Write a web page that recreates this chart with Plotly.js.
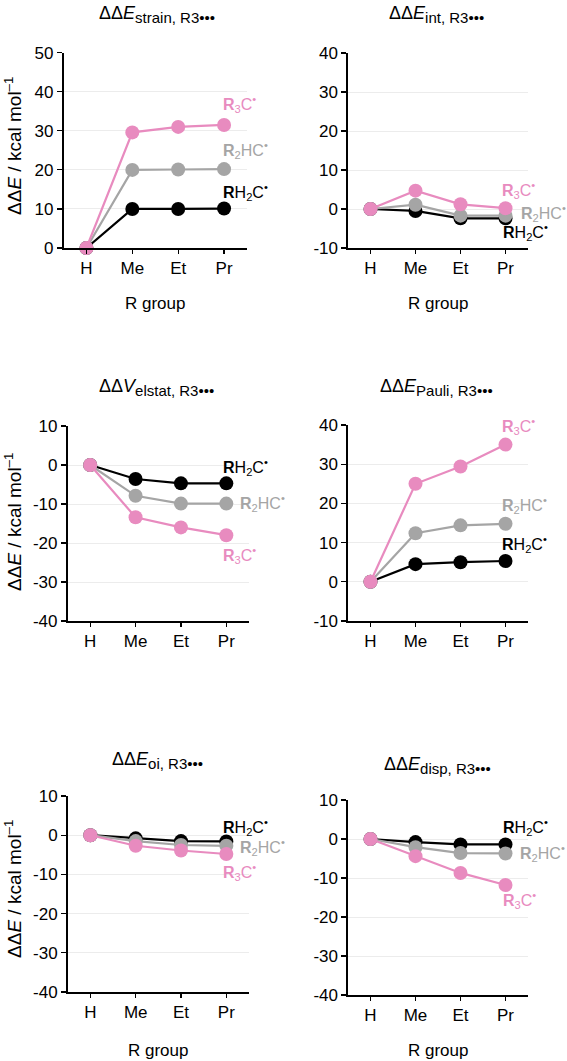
<!DOCTYPE html>
<html>
<head>
<meta charset="utf-8">
<script src="https://cdn.plot.ly/plotly-3.0.1.min.js"></script>
<style>
  html, body { margin: 0; padding: 0; background: #ffffff; }
  #chart { width: 567px; height: 1061px; }
</style>
</head>
<body>
<div id="chart"></div>
<script>
// R groups on the x axis
const groups = ['H', 'Me', 'Et', 'Pr'];

// Radical series names
const seriesLabels = [
  '<b>R</b>H<sub>2</sub>C<sup>•</sup>',
  '<b>R</b><sub>2</sub>HC<sup>•</sup>',
  '<b>R</b><sub>3</sub>C<sup>•</sup>'
];

// Panel title parts: symbol and subscript
const panelSymbols = ['E', 'E', 'V', 'E', 'E', 'E'];
const panelSubs = ['strain, R3•••', 'int, R3•••', 'elstat, R3•••', 'Pauli, R3•••', 'oi, R3•••', 'disp, R3•••'];

// ΔΔE values (kcal/mol) per term: [RH2C•, R2HC•, R3C•]
const strainRH2C = [0, 10.0, 10.0, 10.1];
const strainR2HC = [0, 20.0, 20.1, 20.2];
const strainR3C  = [0, 29.6, 31.0, 31.5];

const intRH2C = [0, -0.5, -2.4, -2.4];
const intR2HC = [0, 1.1, -1.7, -1.7];
const intR3C  = [0, 4.7, 1.2, 0.2];

const elstatRH2C = [0, -3.6, -4.7, -4.7];
const elstatR2HC = [0, -7.9, -9.9, -9.9];
const elstatR3C  = [0, -13.4, -16.0, -18.0];

const pauliRH2C = [0, 4.5, 5.0, 5.3];
const pauliR2HC = [0, 12.4, 14.4, 14.8];
const pauliR3C  = [0, 25.0, 29.4, 35.0];

const oiRH2C = [0, -0.8, -1.5, -1.6];
const oiR2HC = [0, -1.5, -2.5, -2.7];
const oiR3C  = [0, -2.7, -3.9, -4.8];

const dispRH2C = [0, -0.8, -1.4, -1.4];
const dispR2HC = [0, -2.1, -3.6, -3.7];
const dispR3C  = [0, -4.4, -8.7, -11.8];

const panelData = [
  [strainRH2C, strainR2HC, strainR3C],
  [intRH2C, intR2HC, intR3C],
  [elstatRH2C, elstatR2HC, elstatR3C],
  [pauliRH2C, pauliR2HC, pauliR3C],
  [oiRH2C, oiR2HC, oiR3C],
  [dispRH2C, dispR2HC, dispR3C]
];

// ---- styling / layout ----
const W = 567, H = 1061;
const colors = ['#000000', '#a5a5a5', '#e88bbf'];
const FONT = '"Liberation Sans", Arial, Helvetica, sans-serif';

// plot boxes in pixels: [left, right], [top, bottom], y range,
// title left edge / middle, x-title middle, y-title middle
const boxes = [
  {x: [63.5, 247], y: [52.7, 248], range: [0, 50],   titleX: 97,  titleY: 14,  groupY: 303,  yTitleY: 146},
  {x: [348, 528],  y: [53, 248],   range: [-10, 40], titleX: 387, titleY: 14,  groupY: 303,  yTitleY: null},
  {x: [67.5, 249], y: [426, 621],  range: [-40, 10], titleX: 97,  titleY: 387, groupY: null, yTitleY: 522},
  {x: [348, 528],  y: [425, 621],  range: [-10, 40], titleX: 378, titleY: 387, groupY: null, yTitleY: null},
  {x: [67.7, 249], y: [796, 992],  range: [-40, 10], titleX: 110, titleY: 760, groupY: 1050, yTitleY: 889},
  {x: [348, 528],  y: [800, 995],  range: [-40, 10], titleX: 382, titleY: 765, groupY: 1050, yTitleY: null}
];

// series label anchor positions (category units, value units)
const labelPos = [
  [[2.94, 14.4], [2.94, 25.1], [2.94, 36.8]],
  [[2.90, -5.8], [3.30, -1.0], [2.88, 4.9]],
  [[2.89, -0.4], [3.25, -9.8], [2.88, -23.1]],
  [[2.88, 9.7],  [2.88, 19.5], [2.88, 39.7]],
  [[2.88, 2.1],  [3.25, -3.0], [2.88, -9.4]],
  [[2.90, 3.2],  [3.28, -3.7], [2.90, -15.6]]
];

const px = v => v / W;
const py = v => 1 - v / H;

const traces = [];
const layout = {
  width: W, height: H,
  margin: {l: 0, r: 0, t: 0, b: 0},
  paper_bgcolor: '#ffffff',
  plot_bgcolor: '#ffffff',
  showlegend: false,
  font: {family: FONT, color: '#000000'},
  annotations: []
};

panelData.forEach((series, i) => {
  const n = i + 1;
  const xa = 'x' + (n === 1 ? '' : n);
  const ya = 'y' + (n === 1 ? '' : n);
  const b = boxes[i];

  // one line+marker trace per radical, pink drawn last (on top)
  series.forEach((vals, s) => {
    traces.push({
      type: 'scatter', mode: 'lines+markers',
      x: groups, y: vals,
      xaxis: xa, yaxis: ya,
      cliponaxis: false,
      line: {color: colors[s], width: 2.2},
      marker: {color: colors[s], size: 14},
      hoverinfo: 'skip'
    });
    layout.annotations.push({
      xref: xa, yref: ya,
      x: labelPos[i][s][0], y: labelPos[i][s][1],
      xanchor: 'left', yanchor: 'middle',
      text: seriesLabels[s], showarrow: false,
      font: {size: 16, color: colors[s], family: FONT}
    });
  });

  // y ticks every 10, written with a plain hyphen for negatives
  const tv = [];
  for (let v = b.range[0]; v <= b.range[1]; v += 10) tv.push(v);

  layout['xaxis' + (n === 1 ? '' : n)] = {
    domain: [px(b.x[0]), px(b.x[1])],
    anchor: ya,
    type: 'category',
    range: [-0.5, 3.5],
    showline: true, linecolor: '#000000', linewidth: 1.6,
    ticks: 'outside', ticklen: 4, tickwidth: 1.2, tickcolor: '#000000',
    showgrid: false, zeroline: false,
    tickfont: {size: 17, family: FONT, color: '#000000'},
    fixedrange: true
  };
  layout['yaxis' + (n === 1 ? '' : n)] = {
    domain: [py(b.y[1]), py(b.y[0])],
    anchor: xa,
    range: b.range,
    tickmode: 'array', tickvals: tv, ticktext: tv.map(v => String(v)),
    showline: true, linecolor: '#000000', linewidth: 1.6,
    ticks: 'outside', ticklen: 5, tickwidth: 1.2, tickcolor: '#000000',
    showgrid: true, gridcolor: '#ececec', gridwidth: 1,
    zeroline: false,
    tickfont: {size: 17, family: FONT, color: '#000000'},
    fixedrange: true
  };

  // panel title
  layout.annotations.push({
    xref: 'paper', yref: 'paper',
    x: px(b.titleX), y: py(b.titleY),
    xanchor: 'left', yanchor: 'middle',
    text: 'ΔΔ<i>' + panelSymbols[i] + '</i><sub><span style="font-size:15px">' + panelSubs[i] + '</span></sub>',
    showarrow: false,
    font: {size: 18, family: FONT, color: '#000000'}
  });

  // x axis title
  if (b.groupY !== null) {
    layout.annotations.push({
      xref: 'paper', yref: 'paper',
      x: px((b.x[0] + b.x[1]) / 2), y: py(b.groupY),
      xanchor: 'center', yanchor: 'middle',
      text: 'R group', showarrow: false,
      font: {size: 17, family: FONT, color: '#000000'}
    });
  }

  // y axis title on the left column
  if (b.yTitleY !== null) {
    layout.annotations.push({
      xref: 'paper', yref: 'paper',
      x: px(13), y: py(b.yTitleY),
      xanchor: 'center', yanchor: 'middle',
      textangle: -90,
      text: 'ΔΔ<i>E</i> / kcal mol<sup>–1</sup>', showarrow: false,
      font: {size: 19, family: FONT, color: '#000000'}
    });
  }
});

Plotly.newPlot('chart', traces, layout, {displayModeBar: false, staticPlot: true});
</script>
</body>
</html>
